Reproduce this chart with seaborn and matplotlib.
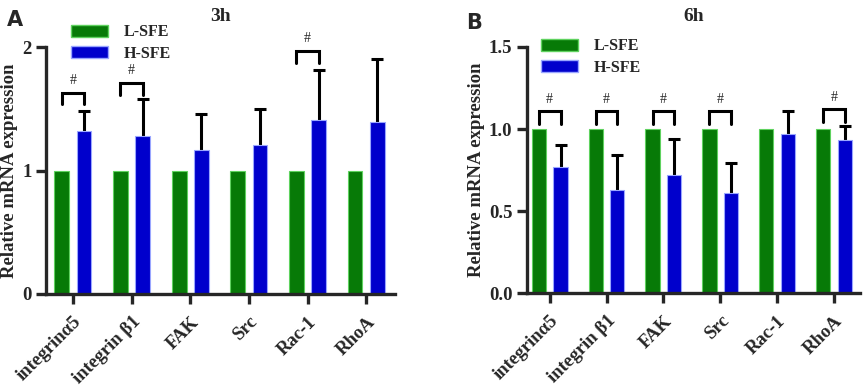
import numpy as np
import pandas as pd
import seaborn as sns
import matplotlib.pyplot as plt
from matplotlib.patches import Patch

# data
genes = ["integrinα5", "integrin β1", "FAK", "Src", "Rac-1", "RhoA"]
groups = ["L-SFE", "H-SFE"]
low_3h = [1, 1, 1, 1, 1, 1]
high_3h = [1.32, 1.28, 1.17, 1.21, 1.41, 1.39]
high_3h_sd = [0.16, 0.30, 0.29, 0.29, 0.40, 0.51]
low_6h = [1, 1, 1, 1, 1, 1]
high_6h = [0.77, 0.63, 0.72, 0.61, 0.97, 0.93]
high_6h_sd = [0.13, 0.21, 0.22, 0.18, 0.14, 0.09]
# significance brackets: gene index, bracket height, leg bottom
sig_3h = [(0, 1.63, 1.54), (1, 1.71, 1.61), (4, 1.97, 1.87)]
sig_6h = [(0, 1.11, 1.03), (1, 1.11, 1.03), (2, 1.11, 1.03), (3, 1.11, 1.03), (5, 1.12, 1.04)]

green = "#077a07"
blue = "#0000cc"
serif = "Liberation Serif"

sns.set_style("ticks")
plt.rcParams["font.family"] = serif
plt.rcParams["font.weight"] = "bold"

fig = plt.figure(figsize=(8.65, 3.87), dpi=100)
axA = fig.add_axes([46/865, 93/387, 349/865, 247/387])
axB = fig.add_axes([527/865, 94/387, 333/865, 246/387])


def draw(ax, low, high, sd, sig, ylim, yticks, xlim, title, leg_anchor):
    df = pd.DataFrame({
        "gene": genes * 2,
        "group": [groups[0]] * len(genes) + [groups[1]] * len(genes),
        "value": list(low) + list(high),
    })
    sns.barplot(data=df, x="gene", y="value", hue="group", order=genes,
                hue_order=groups, palette=[green, blue], saturation=1,
                width=0.76, gap=0.34, errorbar=None, ax=ax, legend=False, linewidth=0.8)
    for bar, ec in zip(ax.patches, ["#5fd25f"] * len(genes) + ["#9aa6ff"] * len(genes)):
        bar.set_edgecolor(ec)
    green_bars = ax.containers[0]
    blue_bars = ax.containers[1]
    xs = [b.get_x() + b.get_width() / 2 for b in blue_bars]
    # one-sided (upper) error bars, drawn behind the bars
    eb = ax.errorbar(xs, high, yerr=[np.zeros(len(sd)), sd], fmt="none", ecolor="black",
                     elinewidth=2.2, capsize=4, capthick=2.2, zorder=0.5)
    eb[1][0].set_visible(False)
    for i, top, leg in sig:
        xg = green_bars[i].get_x() + green_bars[i].get_width() / 2
        xb = blue_bars[i].get_x() + blue_bars[i].get_width() / 2
        ax.plot([xg, xg, xb, xb], [leg, top, top, leg], color="black", lw=2.2,
                clip_on=False, solid_joinstyle="miter")
        ax.text((xg + xb) / 2, top + (ylim[1] - ylim[0]) * 0.022, "#", ha="center",
                va="bottom", fontsize=10, fontweight="normal", family=serif)
    ax.set_ylim(*ylim)
    ax.set_yticks(yticks)
    ax.set_xlim(*xlim)
    ax.set_xlabel("")
    ax.set_ylabel("Relative mRNA expression", fontsize=13.5, fontweight="bold", labelpad=3)
    ax.set_title(title, fontsize=14, fontweight="bold", pad=19)
    for s in ["top", "right"]:
        ax.spines[s].set_visible(False)
    for s in ["left", "bottom"]:
        ax.spines[s].set_linewidth(2.4)
    ax.tick_params(axis="both", width=2.4, length=7, labelsize=13.5)
    ax.tick_params(axis="x", pad=7)
    ax.set_xticks(range(len(genes)))
    ax.set_xticklabels(genes, rotation=45, ha="right", va="top", rotation_mode="anchor",
                       fontweight="bold")
    for lab in ax.get_yticklabels():
        lab.set_fontweight("bold")
    handles = [Patch(facecolor=green, edgecolor="#5fd25f"), Patch(facecolor=blue, edgecolor="#9aa6ff")]
    ax.legend(handles, groups, loc="upper left", bbox_to_anchor=leg_anchor, frameon=False,
              handlelength=2.3, handleheight=0.8, handletextpad=1.0,
              labelspacing=0.35, prop={"family": serif, "weight": "bold", "size": 11.5})
    return ax


draw(axA, low_3h, high_3h, high_3h_sd, sig_3h, (0, 2), [0, 1, 2], (-0.46, 5.49),
     "3h", (0.03, 1.15))
draw(axB, low_6h, high_6h, high_6h_sd, sig_6h, (0, 1.5), [0, 0.5, 1.0, 1.5], (-0.40, 5.46),
     "6h", (0.0, 1.094))
axA.yaxis.set_major_formatter(plt.FormatStrFormatter("%d"))
axB.yaxis.set_major_formatter(plt.FormatStrFormatter("%.1f"))

fig.text(7/865, 1 - 20/387, "A", fontsize=15, fontweight="bold", family="DejaVu Sans", va="center")
fig.text(466/865, 1 - 23/387, "B", fontsize=15, fontweight="bold", family="DejaVu Sans", va="center")

fig.savefig("out.png", dpi=100)
